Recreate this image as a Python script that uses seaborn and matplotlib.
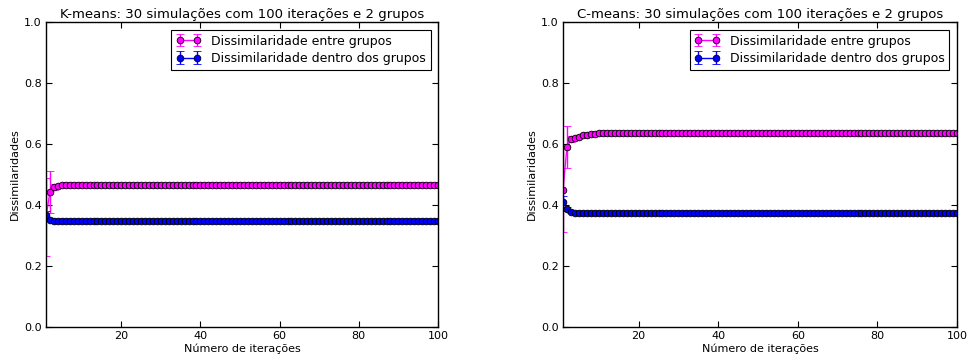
import matplotlib
matplotlib.use("Agg")
import matplotlib.pyplot as plt
import seaborn as sns
import numpy as np

# ---- data ----
iteracoes = list(range(1, 101))

kmeans_entre = [0.360, 0.443, 0.460, 0.463] + [0.465] * 96
kmeans_entre_std = [0.127, 0.068, 0.010, 0.004] + [0.002] * 96
kmeans_dentro = [0.367, 0.352, 0.348, 0.347] + [0.346] * 96
kmeans_dentro_std = [0.012, 0.006, 0.003, 0.002] + [0.001] * 96

cmeans_entre = [0.450, 0.590, 0.615, 0.620, 0.624, 0.628, 0.631, 0.633, 0.634] + [0.635] * 91
cmeans_entre_std = [0.140, 0.070, 0.010, 0.006, 0.004, 0.003, 0.002, 0.002, 0.002] + [0.001] * 91
cmeans_dentro = [0.410, 0.387, 0.378, 0.375] + [0.373] * 96
cmeans_dentro_std = [0.018, 0.008, 0.003, 0.002] + [0.001] * 96

titulos = ["K-means: 30 simulações com 100 iterações e 2 grupos",
           "C-means: 30 simulações com 100 iterações e 2 grupos"]
rotulo_entre = "Dissimilaridade entre grupos"
rotulo_dentro = "Dissimilaridade dentro dos grupos"
xlabel = "Número de iterações"
ylabel = "Dissimilaridades"
yticks = [0.0, 0.2, 0.4, 0.6, 0.8, 1.0]
xticks = [20, 40, 60, 80, 100]

sns.set_style("ticks")
plt.rcParams["font.family"] = ["DejaVu Sans"]
plt.rcParams["text.color"] = "black"
plt.rcParams["axes.labelcolor"] = "black"

fig = plt.figure(figsize=(9.68, 3.63), dpi=100)
ax1 = fig.add_axes([46/968, 36/363, 392/968, 305/363])
ax2 = fig.add_axes([563/968, 36/363, 394/968, 305/363])

series = [
    (ax1, titulos[0], kmeans_entre, kmeans_entre_std, kmeans_dentro, kmeans_dentro_std),
    (ax2, titulos[1], cmeans_entre, cmeans_entre_std, cmeans_dentro, cmeans_dentro_std),
]

for ax, tit, ent, ent_sd, den, den_sd in series:
    ax.errorbar(iteracoes, ent, yerr=ent_sd, fmt="-o", color="#ff00ff",
                ecolor="#ff00ff", mfc="#ff00ff", mec="black", mew=0.6,
                ms=4.8, lw=1.0, elinewidth=1.0, capsize=3, label=rotulo_entre)
    ax.errorbar(iteracoes, den, yerr=den_sd, fmt="-o", color="#0000ff",
                ecolor="#0000ff", mfc="#0000ff", mec="black", mew=0.6,
                ms=4.8, lw=1.0, elinewidth=1.0, capsize=3, label=rotulo_dentro)
    ax.set_xlim(1, 100)
    ax.set_ylim(0.0, 1.0)
    ax.set_xticks(xticks)
    ax.set_yticks(yticks)
    ax.set_yticklabels([f"{v:.1f}" for v in yticks])
    ax.tick_params(direction="in", top=True, right=True, labelsize=8,
                   length=4, width=0.8, pad=3, colors="black")
    for s in ax.spines.values():
        s.set_visible(True)
        s.set_color("black")
        s.set_linewidth(1.0)
    ax.set_title(tit, fontsize=9.5, pad=3, color="black")
    ax.set_xlabel(xlabel, fontsize=8, labelpad=2)
    ax.set_ylabel(ylabel, fontsize=8, labelpad=3)
    leg = ax.legend(loc="upper right", numpoints=2, fontsize=9,
                    fancybox=False, framealpha=1, edgecolor="black",
                    borderpad=0.4, handlelength=2.0, handletextpad=0.8,
                    labelspacing=0.35, borderaxespad=0.6)
    leg.get_frame().set_linewidth(0.8)

fig.savefig("out.png", dpi=100, facecolor="white")
